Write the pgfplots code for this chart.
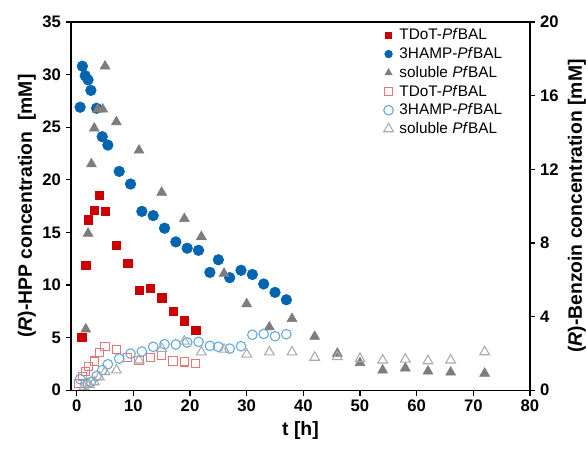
\documentclass[border=0pt]{standalone}
\usepackage{pgfplots}
\pgfplotsset{compat=1.18}
\usepackage{fontspec}
\setmainfont{Liberation Sans}

\definecolor{cred}{RGB}{204,0,0}
\definecolor{cblue}{RGB}{0,101,176}
\definecolor{cgray}{RGB}{125,125,125}
\definecolor{lred}{RGB}{232,118,118}
\definecolor{lblue}{RGB}{95,168,222}
\definecolor{lgray}{RGB}{170,170,170}

\pgfplotsset{
  common/.style={
    scale only axis,
    width=344pt, height=276pt,
    xmin=-1, xmax=80,
    /pgf/number format/assume math mode=true,
    tick label style={font=\bfseries\fontsize{12.5}{14}\selectfont},
    label style={font=\bfseries\fontsize{14.5}{16}\selectfont},
    axis line style={line width=0.9pt},
    major tick style={line width=0.9pt, black},
    major tick length=4pt,
    tick align=outside,
  },
  fred/.style={only marks, mark=square*, mark size=3.1pt, color=cred},
  fblue/.style={only marks, mark=*, mark size=4pt, color=cblue},
  fgray/.style={only marks, mark=triangle*, mark size=4.3pt, color=cgray},
  ored/.style={only marks, mark=square, mark size=3.1pt, color=lred, mark options={line width=0.8pt}},
  oblue/.style={only marks, mark=o, mark size=3.6pt, color=lblue, mark options={line width=0.8pt}},
  ogray/.style={only marks, mark=triangle, mark size=4.2pt, color=lgray, mark options={line width=0.8pt}},
}

\begin{document}
\begin{tikzpicture}
\begin{axis}[
  common,
  ymin=0, ymax=35,
  xtick={0,10,...,80},
  ytick={0,5,...,35},
  xtick pos=bottom, ytick pos=left,
  xlabel={t [h]},
  ylabel={(\textit{R})-HPP concentration\ \ [mM]},
  ylabel style={yshift=-2pt},
]
\coordinate (ll) at (rel axis cs:0,0);
\coordinate (ur) at (rel axis cs:1,1);
% TDoT-PfBAL, (R)-HPP
\addplot[fred] coordinates {
  (0.9,5.0) (1.6,11.9) (2.1,16.2) (3.1,17.1) (4,18.5) (5,17.0) (7,13.8)
  (9,12.1) (11,9.5) (13,9.7) (15,8.8) (17,7.5) (19,6.6) (21,5.7)
};
% 3HAMP-PfBAL, (R)-HPP
\addplot[fblue] coordinates {
  (0.6,26.9) (1,30.8) (1.5,29.9) (2,29.5) (2.5,28.5) (3.5,26.8) (4.5,24.1)
  (5.5,23.3) (7.5,20.8) (9.5,19.6) (11.5,17.0) (13.5,16.6) (15.5,15.4)
  (17.5,14.1) (19.5,13.5) (21.5,13.3) (23.5,11.2) (25,12.4) (27,10.7)
  (29,11.4) (31,11.0) (33,10.1) (35,9.3) (37,8.6)
};
% soluble PfBAL, (R)-HPP
\addplot[fgray] coordinates {
  (1.6,5.8) (2,14.9) (2.6,21.5) (3.1,24.9) (3.7,26.7) (4.6,26.7) (5,30.8)
  (7,25.5) (11,22.8) (15,18.8) (19,16.3) (22,14.6) (26,11.1) (30,8.2)
  (34,6.0) (38,6.8) (42,5.1) (46,3.5) (50,2.6) (54,1.9) (58,2.1)
  (62,1.8) (66,1.7) (72,1.6)
};
\end{axis}
\begin{axis}[
  common,
  ymin=0, ymax=20,
  ytick={0,4,...,20},
  axis x line=none,
  axis y line*=right,
  ylabel={(\textit{R})-Benzoin concentration [mM]},
  legend style={draw=none, fill=none, at={(0.672,0.995)}, anchor=north west,
    font=\fontsize{11.5}{13}\selectfont, row sep=1.2pt, column sep=3pt,
    nodes={inner sep=1.5pt}},
  legend cell align=left,
]
\addlegendimage{fred, mark size=2.3pt}
\addlegendentry{TDoT-\textit{Pf}BAL}
\addlegendimage{fblue, mark size=2.9pt}
\addlegendentry{3HAMP-\textit{Pf}BAL}
\addlegendimage{fgray, mark size=3.1pt}
\addlegendentry{soluble \textit{Pf}BAL}
% TDoT-PfBAL, (R)-benzoin
\addplot[ored] coordinates {
  (0.4,0.35) (1.05,0.76) (1.5,1.03) (2.1,1.30) (3.1,1.58) (4,2.05) (5,2.39)
  (7,2.21) (9,1.76) (11,1.63) (13,1.76) (15,1.90) (17,1.59) (19,1.54) (21,1.45)
};
\addlegendentry{TDoT-\textit{Pf}BAL}
% 3HAMP-PfBAL, (R)-benzoin
\addplot[oblue] coordinates {
  (0.6,0.6) (1.5,0.35) (2.5,0.45) (3.5,0.76) (4.5,1.09) (5.5,1.41) (7.5,1.72)
  (9.5,1.99) (11.5,2.10) (13.5,2.36) (15.5,2.50) (17.5,2.48) (19.5,2.59)
  (21.5,2.63) (23.5,2.41) (25,2.36) (27,2.26) (29,2.39) (31,3.01) (33,3.06)
  (35,2.93) (37,3.04)
};
\addlegendentry{3HAMP-\textit{Pf}BAL}
% soluble PfBAL, (R)-benzoin
\addplot[ogray] coordinates {
  (1.3,0.18) (2.2,0.31) (3.1,0.45) (4,0.72) (5,1.0) (7,1.09) (11,1.63)
  (15,2.26) (19,2.66) (22,2.07) (26,2.22) (30,1.95) (34,2.07) (38,2.07)
  (42,1.78) (46,1.81) (50,1.72) (54,1.63) (58,1.68) (62,1.59) (66,1.63) (72,2.08)
};
\addlegendentry{soluble \textit{Pf}BAL}
\end{axis}
\pgfresetboundingbox
\path ([xshift=-53.25pt,yshift=-46.5pt]ll) rectangle ([xshift=42pt,yshift=16.5pt]ur);
\end{tikzpicture}
\end{document}
